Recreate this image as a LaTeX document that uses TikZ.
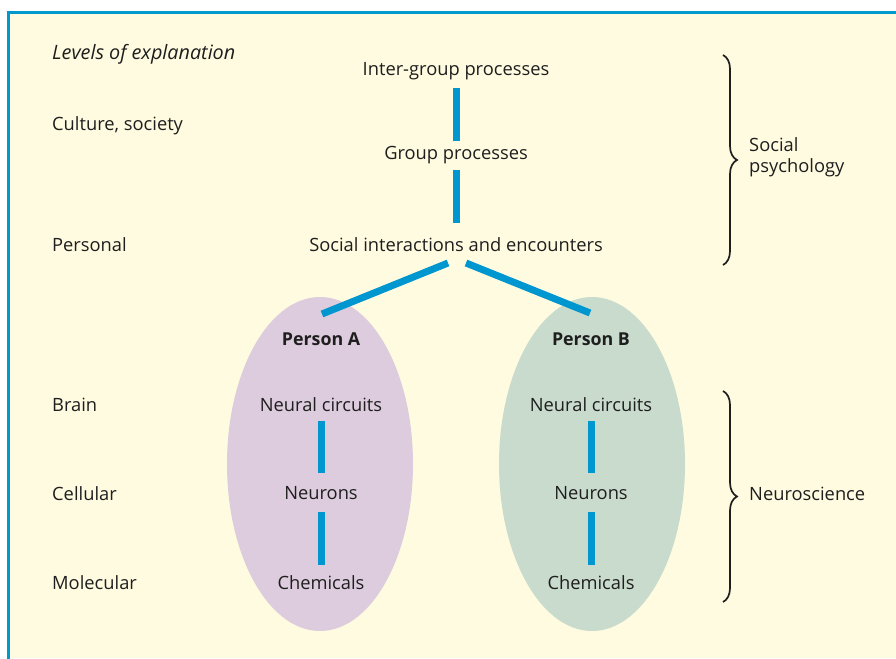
\documentclass[tikz,border=0pt]{standalone}
\usepackage{fontspec}
\setmainfont{Open Sans}
\usetikzlibrary{shapes.geometric,decorations.pathreplacing}
\definecolor{bg}{HTML}{FFFBE0}
\definecolor{frame}{HTML}{0099CC}
\definecolor{barblue}{HTML}{0096CF}
\definecolor{ellA}{HTML}{DDCCDD}
\definecolor{ellB}{HTML}{C9DBCD}
\definecolor{ink}{HTML}{1E1E1E}
\begin{document}
\begin{tikzpicture}[x=1pt,y=-1pt,
  lbl/.style={font=\fontsize{18.3}{21}\selectfont, text=ink, inner sep=0pt},
  lev/.style={lbl, anchor=west},
  ctr/.style={lbl, anchor=center},
  bold/.style={ctr, font=\fontsize{17.8}{21}\selectfont\bfseries},
  bar/.style={draw=barblue, line width=7pt, line cap=butt},
  blob/.style={ellipse, minimum width=186pt, minimum height=334pt, inner sep=0pt},
  brc/.style={draw=ink, line width=1.7pt, decorate, decoration={brace, amplitude=14pt}}
]
\useasboundingbox (0,0) rectangle (896,658);
\fill[white] (0,0) rectangle (896,658);
\fill[bg] (8.5,12.5) rectangle (896,658);
\draw[frame, line width=3pt] (8.5,700) -- (8.5,12.5) -- (900,12.5);

% ellipses
\node[blob, fill=ellA] (ellA) at (320,464) {};
\node[blob, fill=ellB] (ellB) at (592,464) {};

% level labels
\node[lev, font=\fontsize{19.8}{21}\selectfont\itshape] (lvl) at (52,54.5) {Levels of explanation};
\node[lev] (cult) at (52,125.5) {Culture, society};
\node[lev] (pers) at (52,245) {Personal};
\node[lev] (brain) at (52,404.5) {Brain};
\node[lev] (cell) at (52,493.5) {Cellular};
\node[lev] (mol) at (52,582.5) {Molecular};

% central column
\node[ctr] (ig) at (456,71.5) {Inter-group processes};
\node[ctr] (gp) at (456,155.5) {Group processes};
\node[ctr] (soc) at (456,245) {Social interactions and encounters};

\node[bold] (pa) at (321,339.5) {Person A};
\node[bold] (pb) at (591,339.5) {Person B};

\node[ctr] (ncA) at (321,404.5) {Neural circuits};
\node[ctr] (nA) at (321,493.5) {Neurons};
\node[ctr] (cA) at (321,582.5) {Chemicals};
\node[ctr] (ncB) at (591,404.5) {Neural circuits};
\node[ctr] (nB) at (591,493.5) {Neurons};
\node[ctr] (cB) at (591,582.5) {Chemicals};

% connectors
\draw[bar, shorten <=16.5pt, shorten >=14.5pt] (ig.center) -- (gp.center);
\draw[bar, shorten <=14.5pt, shorten >=22pt] (gp.center) -- (soc.center);
\draw[bar, shorten <=16.5pt, shorten >=20.5pt] (ncA.center) -- (nA.center);
\draw[bar, shorten <=18.5pt, shorten >=17.5pt] (nA.center) -- (cA.center);
\draw[bar, shorten <=16.5pt, shorten >=20.5pt] (ncB.center) -- (nB.center);
\draw[bar, shorten <=18.5pt, shorten >=17.5pt] (nB.center) -- (cB.center);
\draw[bar] ([xshift=-8pt,yshift=-18pt]soc.center) -- ([xshift=1pt,yshift=25.5pt]pa.center);
\draw[bar] ([xshift=10pt,yshift=-18pt]soc.center) -- ([xshift=-1pt,yshift=26.5pt]pb.center);

% braces
\coordinate (sp1) at (723,55);
\coordinate (sp2) at (723,265);
\draw[brc] (sp1) -- (sp2);
\coordinate (ns1) at (723,391);
\coordinate (ns2) at (723,602);
\draw[brc] (ns1) -- (ns2);
\node[lbl, anchor=west, align=left] (sp) at (749,157) {Social\\psychology};
\node[lev] (ns) at (749,493.5) {Neuroscience};
\end{tikzpicture}
\end{document}
